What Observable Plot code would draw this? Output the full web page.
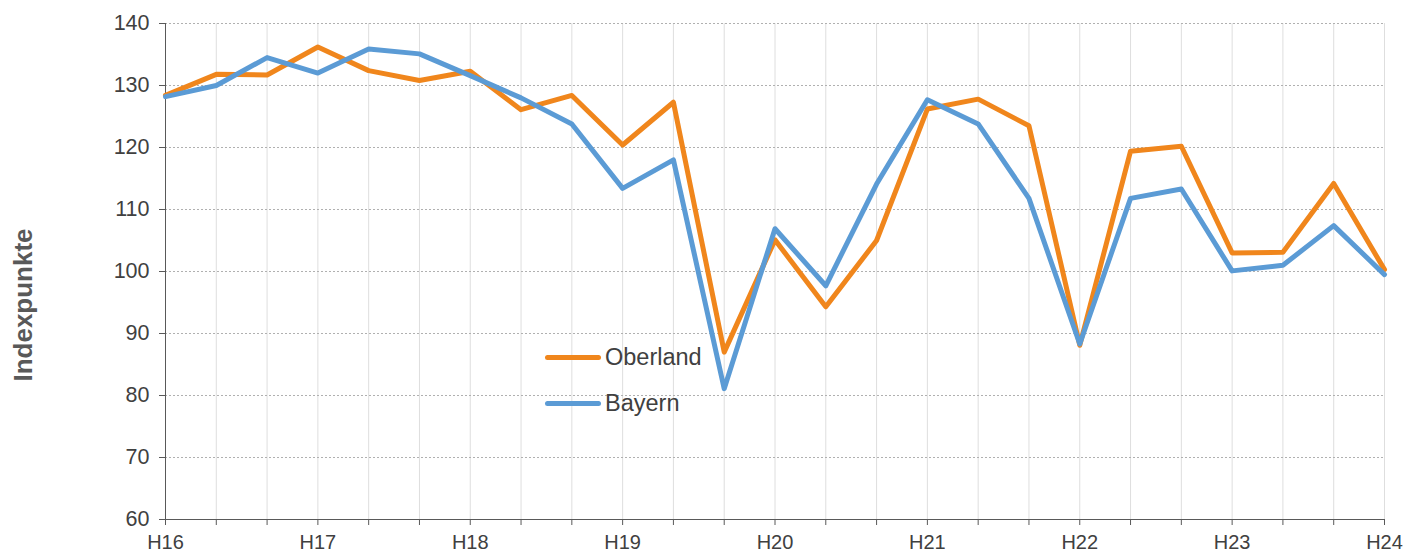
<!DOCTYPE html>
<html><head><meta charset="utf-8">
<script src="https://cdn.jsdelivr.net/npm/d3@7"></script>
<script src="https://cdn.jsdelivr.net/npm/@observablehq/plot@0.6"></script>
<style>
body{margin:0;background:#fff;}
#chart{position:relative;width:1418px;height:552px;font-family:"Liberation Sans",Arial,sans-serif;}
#legend{position:absolute;left:545px;top:334px;font-size:23.5px;color:#404040;}
.item{display:flex;align-items:center;height:46px;}
.swatch{width:56px;height:5px;border-radius:3px;margin-right:4px;}
#ylabel{position:absolute;left:23px;top:305px;transform:translate(-50%,-50%) rotate(-90deg);font-weight:bold;font-size:26px;color:#595959;white-space:nowrap;}
</style></head><body><div id="chart"></div>
<script>
const xTickLabels = ["H16","","","H17","","","H18","","","H19","","","H20","","","H21","","","H22","","","H23","","","H24"];
const seriesNames = ["Oberland","Bayern"];
const seriesColors = ["#f0861c","#5b9bd5"];
const oberland = [128.4,131.8,131.7,136.2,132.4,130.8,132.3,126.1,128.4,120.4,127.3,87.0,105.1,94.3,105.0,126.2,127.8,123.5,88.1,119.4,120.2,103.0,103.1,114.2,100.3];
const bayern = [128.2,130.0,134.5,132.0,135.9,135.1,131.6,128.0,123.8,113.4,118.0,81.1,106.9,97.7,114.1,127.7,123.8,111.8,88.3,111.8,113.3,100.1,101.0,107.4,99.5];
const yTicks = [60,70,80,90,100,110,120,130,140];
const yLabel = "Indexpunkte";

const data = [];
[oberland, bayern].forEach((vals, s) => vals.forEach((v, i) => data.push({series: seriesNames[s], i, v})));
const xIdx = xTickLabels.map((_, i) => i);

const chart = document.getElementById("chart");
const plot = Plot.plot({
  width: 1418, height: 552,
  marginLeft: 165, marginRight: 34, marginTop: 23, marginBottom: 33,
  style: {fontFamily: '"Liberation Sans", Arial, sans-serif', color: "#404040", background: "#fff"},
  x: {domain: [0, xTickLabels.length - 1]},
  y: {domain: [yTicks[0], yTicks[yTicks.length - 1]]},
  color: {domain: seriesNames, range: seriesColors},
  marks: [
    Plot.gridX(xIdx, {stroke: "#dedede", strokeOpacity: 1}),
    Plot.gridY(yTicks.slice(1), {stroke: "#b0b0b0", strokeOpacity: 1, strokeDasharray: "2,2"}),
    Plot.axisY(yTicks, {tickSize: 6, tickPadding: 10, fontSize: 21.5, label: null, stroke: "#595959"}),
    Plot.axisX(xIdx, {tickSize: 6, tickPadding: 9, fontSize: 20, label: null, stroke: "#595959", tickFormat: i => xTickLabels[i]}),
    Plot.ruleX([0], {stroke: "#595959"}),
    Plot.ruleY([yTicks[0]], {stroke: "#595959"}),
    Plot.line(data, {x: "i", y: "v", stroke: "series", strokeWidth: 5, strokeLinejoin: "round", strokeLinecap: "round"})
  ]
});
chart.appendChild(plot);

const lab = document.createElement("div");
lab.id = "ylabel"; lab.textContent = yLabel;
chart.appendChild(lab);

const legend = document.createElement("div");
legend.id = "legend";
seriesNames.forEach((n, k) => {
  const it = document.createElement("div"); it.className = "item";
  const sw = document.createElement("div"); sw.className = "swatch"; sw.style.background = seriesColors[k];
  const tx = document.createElement("span"); tx.textContent = n;
  it.appendChild(sw); it.appendChild(tx); legend.appendChild(it);
});
chart.appendChild(legend);
</script></body></html>
